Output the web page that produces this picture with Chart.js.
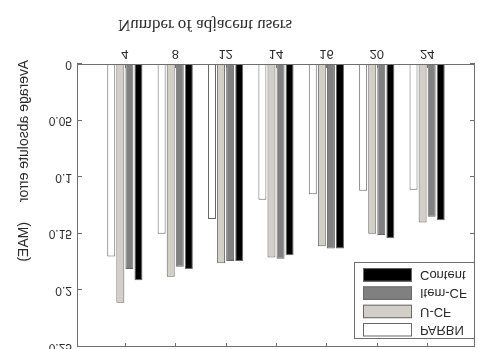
<!DOCTYPE html>
<html>
<head>
<meta charset="utf-8">
<script src="https://cdn.jsdelivr.net/npm/chart.js"></script>
<style>
  html, body { margin: 0; padding: 0; background: #fff; overflow: hidden; }
  /* the reference picture is upside down, so the whole canvas is flipped */
  #wrap { width: 478px; height: 349px; transform: scaleY(-1); }
</style>
</head>
<body>
<div id="wrap"><canvas id="maeChart" width="478" height="349"></canvas></div>
<script>
// number of adjacent users
const categories = ['4', '8', '12', '14', '16', '20', '24'];
// MAE per method
const parbn   = [0.170, 0.150, 0.137, 0.120, 0.115, 0.112, 0.111];
const ucf     = [0.211, 0.188, 0.176, 0.171, 0.161, 0.150, 0.140];
const itemCf  = [0.181, 0.179, 0.174, 0.172, 0.163, 0.151, 0.135];
const content = [0.191, 0.181, 0.174, 0.169, 0.163, 0.154, 0.138];
const yTicks  = [0, 0.05, 0.1, 0.15, 0.2, 0.25];

const sans = "'Liberation Sans', Arial, sans-serif";
const serif = "'Liberation Serif', 'Times New Roman', serif";
const textColor = '#2b2b2b';
const axisColor = '#6f6f6f';

function toPoints(values) {
    return values.map((v, i) => ({ x: i + 1, y: v }));
}

// MATLAB style box, inward ticks, axis titles and legend
const matlabFrame = {
    id: 'matlabFrame',
    afterDatasetsDraw(chart) {
        const { ctx, chartArea: a, scales: { x, y } } = chart;
        ctx.save();
        ctx.strokeStyle = axisColor;
        ctx.lineWidth = 1;
        ctx.strokeRect(a.left + 0.5, a.top + 0.5, a.right - a.left - 1, a.bottom - a.top - 1);

        ctx.beginPath();
        y.ticks.forEach(t => {
            const py = Math.round(y.getPixelForValue(t.value)) + 0.5;
            ctx.moveTo(a.left, py); ctx.lineTo(a.left + 5, py);
            ctx.moveTo(a.right - 5, py); ctx.lineTo(a.right, py);
        });
        x.ticks.forEach(t => {
            const px = Math.round(x.getPixelForValue(t.value)) + 0.5;
            ctx.moveTo(px, a.bottom); ctx.lineTo(px, a.bottom - 4);
            ctx.moveTo(px, a.top); ctx.lineTo(px, a.top + 4);
        });
        ctx.stroke();

        // axis titles
        ctx.fillStyle = textColor;
        ctx.font = '17px ' + serif;
        ctx.textAlign = 'center';
        ctx.textBaseline = 'alphabetic';
        ctx.fillText('Number of adjacent users', 205, 329);

        ctx.save();
        ctx.translate(24, 289);
        ctx.rotate(-Math.PI / 2);
        ctx.font = '14px ' + sans;
        ctx.textAlign = 'left';
        ctx.textBaseline = 'middle';
        ctx.fillText('Average absolute error', 0, 0);
        ctx.fillText('(MAE)', 162, 0);
        ctx.restore();

        // legend
        const bx = 354, by = 10, bw = a.right - bx, bh = 77;
        ctx.fillStyle = '#fff';
        ctx.fillRect(bx, by, bw, bh);
        ctx.strokeStyle = axisColor;
        ctx.strokeRect(bx + 0.5, by + 0.5, bw - 1, bh - 1);
        ctx.font = '13px ' + sans;
        ctx.textAlign = 'left';
        ctx.textBaseline = 'middle';
        chart.data.datasets.forEach((ds, i) => {
            const ry = by + 2.5 + i * 18.3;
            ctx.fillStyle = ds.backgroundColor;
            ctx.fillRect(363, ry, 49, 13.5);
            ctx.strokeStyle = '#6a6a6a';
            ctx.strokeRect(363.5, ry + 0.5, 48, 12.5);
            ctx.fillStyle = textColor;
            ctx.fillText(ds.label, 420, ry + 7);
        });
        ctx.restore();
    }
};

const bar = (label, values, fill) => ({
    label,
    data: toPoints(values),
    backgroundColor: fill,
    borderColor: '#666',
    borderWidth: 1,
    categoryPercentage: 0.72,
    barPercentage: 0.88
});

new Chart(document.getElementById('maeChart'), {
    type: 'bar',
    data: {
        datasets: [
            bar('PARBN', parbn, '#ffffff'),
            bar('U-CF', ucf, '#d1cfc8'),
            bar('Item-CF', itemCf, '#808080'),
            bar('Content', content, '#000000')
        ]
    },
    options: {
        responsive: false,
        animation: false,
        devicePixelRatio: 1,
        layout: { autoPadding: false, padding: { top: 2, right: 3, left: 0, bottom: 0 } },
        plugins: { legend: { display: false }, tooltip: { enabled: false } },
        scales: {
            x: {
                type: 'linear',
                offset: false,
                min: 0.05,
                max: 7.95,
                grid: { display: false, offset: false, drawTicks: false },
                border: { display: false },
                afterBuildTicks: s => { s.ticks = categories.map((c, i) => ({ value: i + 1 })); },
                afterFit: s => { s.height = 64; s.paddingLeft = 0; s.paddingRight = 0; },
                ticks: {
                    color: textColor,
                    font: { family: sans, size: 13 },
                    padding: 3,
                    maxRotation: 0,
                    callback: v => categories[v - 1]
                }
            },
            y: {
                min: 0,
                max: 0.25,
                grid: { display: false, drawTicks: false },
                border: { display: false },
                afterBuildTicks: s => { s.ticks = yTicks.map(v => ({ value: v })); },
                afterFit: s => { s.width = 77; s.paddingTop = 0; s.paddingBottom = 0; },
                ticks: {
                    color: textColor,
                    font: { family: sans, size: 12 },
                    padding: 5,
                    callback: v => String(v)
                }
            }
        }
    },
    plugins: [matlabFrame]
});
</script>
</body>
</html>
